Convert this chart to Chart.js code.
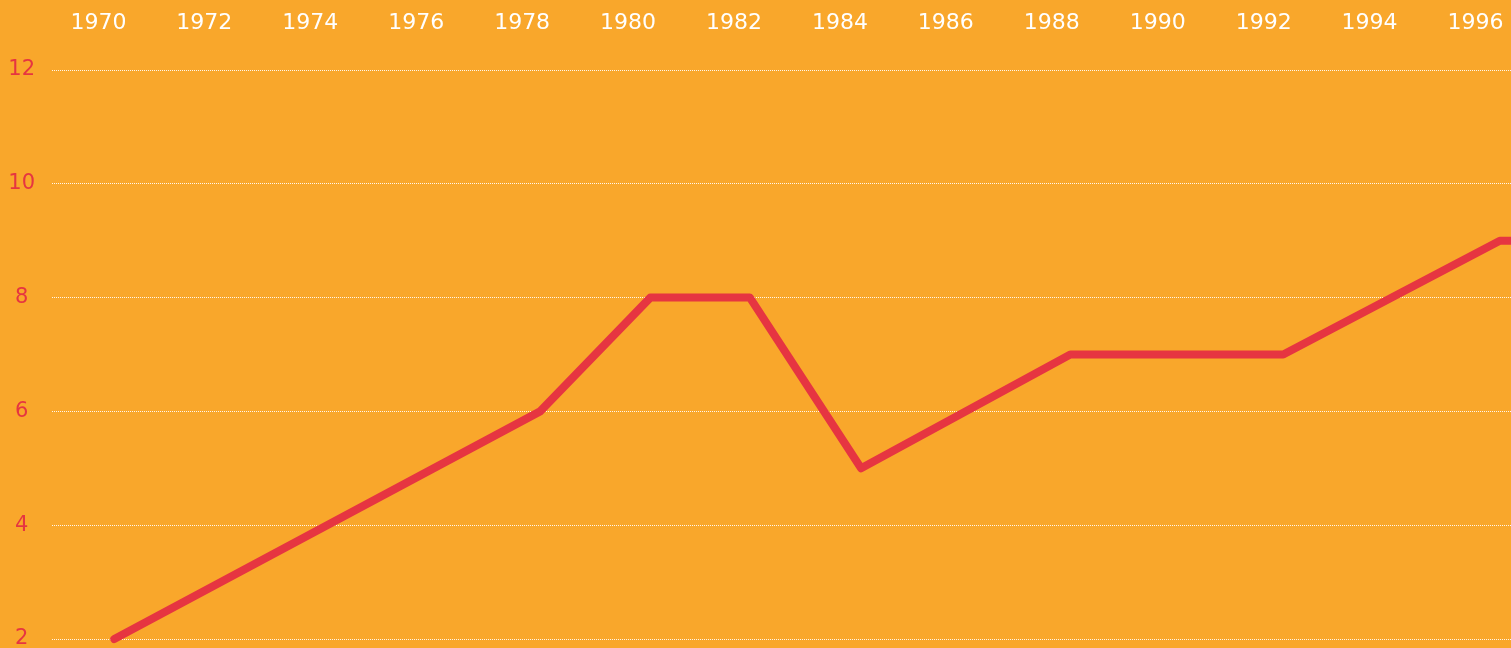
<!DOCTYPE html>
<html>
<head>
<meta charset="utf-8">
<script src="https://cdn.jsdelivr.net/npm/chart.js@4/dist/chart.umd.min.js"></script>
<style>
  html, body { margin: 0; padding: 0; background: #F9A72B; overflow: hidden; }
  #wrap { width: 1511px; height: 648px; position: relative; }
</style>
</head>
<body>
<div id="wrap"><canvas id="c"></canvas></div>
<script>
// Data
const pointYears = [1970.3, 1978.34, 1980.42, 1982.3, 1984.4, 1988.35, 1992.37, 1996.46, 1998.4];
const pointValues = [2, 6, 8, 8, 5, 7, 7, 9, 9];
const xTickYears = [1970, 1972, 1974, 1976, 1978, 1980, 1982, 1984, 1986, 1988, 1990, 1992, 1994, 1996];
const yTickValues = [2, 4, 6, 8, 10, 12];

const BG = '#F9A72B';
const RED = '#E63541';

const points = pointYears.map((x, i) => ({ x: x, y: pointValues[i] }));

new Chart(document.getElementById('c'), {
  type: 'line',
  data: {
    datasets: [{
      data: points,
      borderColor: RED,
      borderWidth: 8,
      borderCapStyle: 'round',
      borderJoinStyle: 'round',
      pointRadius: 0,
      pointHoverRadius: 0,
      tension: 0,
      fill: false,
      clip: false
    }]
  },
  options: {
    responsive: true,
    maintainAspectRatio: false,
    animation: false,
    layout: { padding: { left: 0, right: 0, top: 0, bottom: 9 } },
    plugins: { legend: { display: false }, tooltip: { enabled: false } },
    scales: {
      x: {
        type: 'linear',
        position: 'top',
        min: 1969.124,
        max: 1996.67,
        afterBuildTicks: (s) => { s.ticks = xTickYears.map(v => ({ value: v })); },
        afterFit: (s) => { s.height = 70; s.paddingLeft = 0; s.paddingRight = 0; },
        grid: { display: false, drawTicks: false },
        border: { display: false },
        ticks: {
          color: '#FFFFFF',
          font: { family: 'DejaVu Sans', size: 22 },
          padding: 34,
          maxRotation: 0,
          autoSkip: false,
          callback: (v) => String(v)
        }
      },
      y: {
        type: 'linear',
        min: 2,
        max: 12,
        afterBuildTicks: (s) => { s.ticks = yTickValues.map(v => ({ value: v })); },
        afterFit: (s) => { s.width = 52; s.paddingTop = 0; s.paddingBottom = 0; },
        grid: {
          color: 'rgba(255,255,255,0.9)',
          lineWidth: 1,
          drawTicks: false
        },
        border: { display: false, dash: [1, 1] },
        ticks: {
          color: RED,
          font: { family: 'DejaVu Sans', size: 21 },
          crossAlign: 'center',
          padding: 17,
          callback: (v) => String(v)
        }
      }
    }
  }
});
</script>
</body>
</html>
